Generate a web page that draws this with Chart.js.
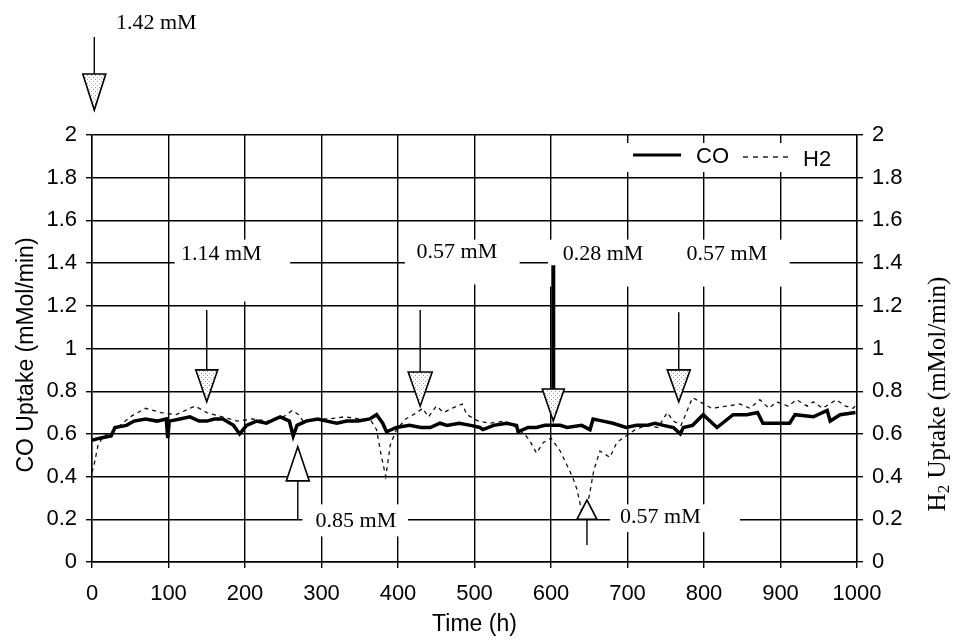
<!DOCTYPE html>
<html><head><meta charset="utf-8">
<script src="https://cdn.jsdelivr.net/npm/chart.js@4.4.0/dist/chart.umd.min.js"></script>
<style>html,body{margin:0;padding:0;background:#fff;}#wrap{width:959px;height:643px;position:relative;}</style>
</head><body><div id="wrap"><canvas id="c" width="959" height="643"></canvas></div>
<script>
// ---- data ----
const coHours  = [0,10,25,30,45,55,70,85,97,99,101,115,128,140,150,160,171,185,193,202,215,228,240,246,258,263,268,280,295,307,320,333,348,363,372,380,385,398,415,430,442,455,464,480,495,507,511,525,542,555,557,570,581,592,603,612,621,640,651,655,668,681,698,712,725,736,747,760,769,773,785,799,817,838,856,870,877,899,912,919,943,961,965,978,998];
const coValues = [0.57,0.58,0.59,0.63,0.64,0.66,0.67,0.66,0.67,0.58,0.66,0.67,0.68,0.66,0.66,0.67,0.67,0.64,0.60,0.64,0.66,0.65,0.67,0.68,0.66,0.59,0.64,0.66,0.67,0.66,0.65,0.66,0.66,0.67,0.69,0.65,0.61,0.63,0.64,0.63,0.63,0.65,0.64,0.65,0.64,0.63,0.62,0.64,0.65,0.64,0.61,0.63,0.63,0.64,0.64,0.64,0.63,0.64,0.62,0.67,0.66,0.65,0.63,0.64,0.64,0.65,0.64,0.63,0.60,0.63,0.64,0.69,0.63,0.69,0.69,0.70,0.65,0.65,0.65,0.69,0.68,0.71,0.66,0.69,0.70];
const h2Hours  = [0,3,8,15,30,50,70,90,110,128,135,150,170,190,210,230,250,262,270,276,290,310,330,350,365,372,378,384,390,398,410,425,432,440,450,460,470,484,490,505,520,540,555,565,572,581,590,600,612,620,628,634,640,645,651,656,664,677,686,694,710,725,740,752,760,770,785,795,810,830,847,860,873,885,895,910,921,935,943,955,973,985,995,1000];
const h2Values = [0.42,0.46,0.55,0.59,0.62,0.68,0.72,0.70,0.69,0.72,0.73,0.70,0.68,0.66,0.67,0.66,0.68,0.71,0.69,0.66,0.67,0.67,0.68,0.67,0.66,0.62,0.50,0.40,0.55,0.62,0.67,0.70,0.72,0.68,0.73,0.70,0.72,0.74,0.69,0.66,0.65,0.66,0.63,0.60,0.57,0.51,0.56,0.58,0.52,0.46,0.40,0.34,0.24,0.22,0.33,0.43,0.52,0.49,0.56,0.58,0.62,0.64,0.63,0.70,0.66,0.64,0.77,0.75,0.72,0.73,0.74,0.72,0.76,0.72,0.75,0.73,0.76,0.73,0.75,0.72,0.76,0.73,0.72,0.74];
const xTickValues = [0,100,200,300,400,500,600,700,800,900,1000];
const yTickValues = [0,0.2,0.4,0.6,0.8,1,1.2,1.4,1.6,1.8,2];
const seriesNames = ['CO','H2'];
const xTitle = 'Time (h)';
const yTitle = 'CO Uptake (mMol/min)';
const y2Title = ['H','2',' Uptake (mMol/min)'];
// concentration changes (label, hour of the change)
const feedLabels = ['1.42 mM','1.14 mM','0.57 mM','0.28 mM','0.57 mM','0.85 mM','0.57 mM'];
const feedHours  = [3,150,429,603,767,269,647];

// ---- helpers ----
const SANS = '"Liberation Sans", Arial, sans-serif';
const SERIF = '"Liberation Serif", "Times New Roman", serif';
const pts = (xs, ys) => xs.map((x, i) => ({x, y: ys[i]}));
let dotPattern = null;
function getPattern(ctx){
  if (dotPattern) return dotPattern;
  const pc = document.createElement('canvas'); pc.width = 4; pc.height = 4;
  const p = pc.getContext('2d');
  p.fillStyle = '#fff'; p.fillRect(0,0,4,4);
  p.fillStyle = '#999'; p.fillRect(1,1,1,1); p.fillRect(3,3,1,1);
  dotPattern = ctx.createPattern(pc, 'repeat');
  return dotPattern;
}
function tri(ctx, x, baseY, tipY, hw, fill){
  ctx.beginPath();
  ctx.moveTo(x - hw, baseY); ctx.lineTo(x + hw, baseY); ctx.lineTo(x, tipY); ctx.closePath();
  ctx.fillStyle = fill; ctx.fill();
  ctx.lineWidth = 1.6; ctx.strokeStyle = '#000'; ctx.stroke();
}
function stem(ctx, x, y1, y2, w){
  ctx.beginPath(); ctx.moveTo(x, y1); ctx.lineTo(x, y2);
  ctx.lineWidth = w; ctx.strokeStyle = '#000'; ctx.stroke();
}
function label(ctx, text, x, y){
  ctx.font = '22px ' + SERIF; ctx.fillStyle = '#000';
  ctx.textAlign = 'center'; ctx.textBaseline = 'middle';
  ctx.fillText(text, x, y);
}

const annotate = {
  id: 'annotate',
  beforeDatasetsDraw(chart){
    const ctx = chart.ctx, xs = chart.scales.x, ys = chart.scales.y;
    const X = h => xs.getPixelForValue(h), Y = v => ys.getPixelForValue(v);
    const ca = chart.chartArea;
    ctx.save(); ctx.fillStyle = '#fff';
    const boxes = [[108,259,1.51,1.22],[409,559,1.51,1.30],[596,912,1.51,1.29],[275,413,0.27,0.12],[677,847,0.27,0.14]];
    boxes.forEach(b => ctx.fillRect(X(b[0]), Y(b[2]), X(b[1]) - X(b[0]), Y(b[3]) - Y(b[2])));
    ctx.fillRect(ca.right - 242, ca.top + 8, 235, 29);
    ctx.restore();
  },
  afterDatasetsDraw(chart){
    const ctx = chart.ctx, xs = chart.scales.x, ys = chart.scales.y;
    const X = h => xs.getPixelForValue(h), Y = v => ys.getPixelForValue(v);
    const ca = chart.chartArea;
    const pat = getPattern(ctx);
    ctx.save();
    // legend
    const ly = ca.top + 20;
    ctx.beginPath(); ctx.moveTo(ca.right - 224, ly); ctx.lineTo(ca.right - 176, ly);
    ctx.lineWidth = 3; ctx.strokeStyle = '#000'; ctx.stroke();
    ctx.font = '22px ' + SANS; ctx.fillStyle = '#000'; ctx.textAlign = 'left'; ctx.textBaseline = 'middle';
    ctx.fillText(seriesNames[0], ca.right - 161, ly + 2);
    ctx.beginPath(); ctx.setLineDash([5,5]); ctx.moveTo(ca.right - 114, ly + 2); ctx.lineTo(ca.right - 66, ly + 2);
    ctx.lineWidth = 1.3; ctx.stroke(); ctx.setLineDash([]);
    ctx.fillText(seriesNames[1], ca.right - 54, ly + 5);

    const x0 = X(feedHours[0]);
    stem(ctx, x0, ca.top - 98, ca.top - 61, 1.4);
    tri(ctx, x0, ca.top - 61, ca.top - 25, 11.5, pat);
    label(ctx, feedLabels[0], X(84), ca.top - 112);
    stem(ctx, X(feedHours[1]), Y(1.18), Y(0.90), 1.4);
    tri(ctx, X(feedHours[1]), Y(0.90), Y(0.75), 11, pat);
    label(ctx, feedLabels[1], X(169), Y(1.44));
    stem(ctx, X(feedHours[2]), Y(1.18), Y(0.89), 1.4);
    tri(ctx, X(feedHours[2]), Y(0.89), Y(0.73), 12, pat);
    label(ctx, feedLabels[2], X(477), Y(1.45));
    stem(ctx, X(feedHours[3]), Y(1.39), Y(0.81), 4);
    tri(ctx, X(feedHours[3]), Y(0.81), Y(0.66), 11, pat);
    label(ctx, feedLabels[3], X(668), Y(1.44));
    stem(ctx, X(feedHours[4]), Y(1.17), Y(0.90), 1.4);
    tri(ctx, X(feedHours[4]), Y(0.90), Y(0.75), 11.5, pat);
    label(ctx, feedLabels[4], X(830), Y(1.44));
    stem(ctx, X(feedHours[5]), Y(0.38), Y(0.20), 1.4);
    tri(ctx, X(feedHours[5]), Y(0.38), Y(0.54), 11.5, '#fff');
    label(ctx, feedLabels[5], X(345), Y(0.19));
    stem(ctx, X(feedHours[6]), Y(0.20), Y(0.08), 1.4);
    tri(ctx, X(feedHours[6]), Y(0.20), Y(0.29), 10, '#fff');
    label(ctx, feedLabels[6], X(743), Y(0.21));

    // axis titles
    ctx.fillStyle = '#000';
    ctx.font = '23px ' + SANS; ctx.textAlign = 'center'; ctx.textBaseline = 'middle';
    ctx.fillText(xTitle, X(500), 625);
    ctx.save(); ctx.translate(27, 355); ctx.rotate(-Math.PI/2);
    ctx.font = '23px ' + SANS; ctx.fillText(yTitle, 0, 0); ctx.restore();
    ctx.save(); ctx.translate(938, 394); ctx.rotate(-Math.PI/2);
    ctx.textAlign = 'left';
    ctx.font = '25px ' + SERIF;
    const wH = ctx.measureText(y2Title[0]).width;
    ctx.font = '17px ' + SERIF; const w2 = ctx.measureText(y2Title[1]).width;
    ctx.font = '25px ' + SERIF; const wR = ctx.measureText(y2Title[2]).width;
    let sx = -(wH + w2 + wR) / 2;
    ctx.fillText(y2Title[0], sx, 0); sx += wH;
    ctx.font = '17px ' + SERIF; ctx.fillText(y2Title[1], sx, 7); sx += w2;
    ctx.font = '25px ' + SERIF; ctx.fillText(y2Title[2], sx, 0);
    ctx.restore();
    ctx.restore();
  }
};

const fmt = v => String(+Number(v).toFixed(1));
const gridCommon = {color: '#000', lineWidth: 1.4, tickLength: 6, tickColor: '#000', tickWidth: 1.4};

new Chart(document.getElementById('c'), {
  type: 'scatter',
  data: {
    datasets: [
      {label: seriesNames[0], data: pts(coHours, coValues), showLine: true, borderColor: '#000', borderWidth: 3.5, pointRadius: 0, tension: 0, yAxisID: 'y', order: 1},
      {label: seriesNames[1], data: pts(h2Hours, h2Values), showLine: true, borderColor: '#111', borderWidth: 1.3, borderDash: [4,4], pointRadius: 0, tension: 0, yAxisID: 'y2', order: 2}
    ]
  },
  options: {
    responsive: false, animation: false, devicePixelRatio: 1,
    layout: {padding: {top: 135, left: 0, right: 0, bottom: 0}},
    plugins: {legend: {display: false}, tooltip: {enabled: false}},
    scales: {
      x: {type: 'linear', min: 0, max: 1000,
          afterBuildTicks: s => { s.ticks = xTickValues.map(v => ({value: v})); },
          afterFit: s => { s.height = 81; },
          ticks: {color: '#000', font: {family: SANS, size: 22}, padding: 13, maxRotation: 0, autoSkip: false, callback: v => String(v)},
          grid: gridCommon, border: {color: '#000', width: 1.4}},
      y: {type: 'linear', position: 'left', min: 0, max: 2,
          afterBuildTicks: s => { s.ticks = yTickValues.map(v => ({value: v})); },
          afterFit: s => { s.width = 92; },
          ticks: {color: '#000', font: {family: SANS, size: 22}, padding: 9, callback: fmt},
          grid: gridCommon, border: {color: '#000', width: 1.4}},
      y2: {type: 'linear', position: 'right', min: 0, max: 2,
          afterBuildTicks: s => { s.ticks = yTickValues.map(v => ({value: v})); },
          afterFit: s => { s.width = 102; },
          ticks: {color: '#000', font: {family: SANS, size: 22}, padding: 9, callback: fmt},
          grid: Object.assign({}, gridCommon, {drawOnChartArea: false}), border: {color: '#000', width: 1.4}}
    }
  },
  plugins: [annotate]
});
</script></body></html>
